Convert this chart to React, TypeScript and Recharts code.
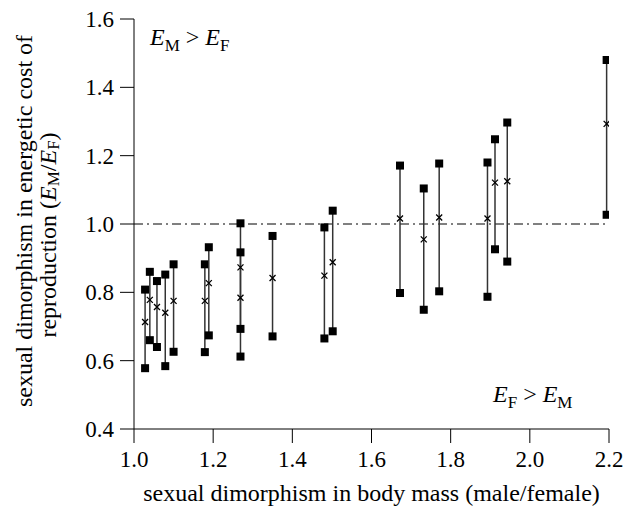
import React from "react";
import { ScatterChart, Scatter, XAxis, YAxis, ReferenceLine } from "recharts";

// body mass ratio (male/female) of each study
const massRatio = [1.028, 1.04, 1.058, 1.079, 1.1, 1.179, 1.189, 1.269, 1.269, 1.35, 1.481, 1.502, 1.672, 1.732, 1.771, 1.893, 1.912, 1.943, 2.194];
// lower / upper / central estimate of E_M/E_F
const costLow = [0.578, 0.66, 0.64, 0.584, 0.626, 0.625, 0.674, 0.612, 0.693, 0.671, 0.665, 0.686, 0.798, 0.749, 0.803, 0.787, 0.926, 0.89, 1.027];
const costHigh = [0.808, 0.86, 0.833, 0.852, 0.882, 0.882, 0.932, 1.002, 0.917, 0.965, 0.99, 1.039, 1.171, 1.104, 1.177, 1.18, 1.248, 1.297, 1.48];
const costMid = [0.713, 0.778, 0.757, 0.74, 0.775, 0.775, 0.827, 0.784, 0.873, 0.842, 0.849, 0.888, 1.016, 0.955, 1.019, 1.016, 1.121, 1.125, 1.293];

const xTicks = [1.0, 1.2, 1.4, 1.6, 1.8, 2.0, 2.2];
const yTicks = [0.4, 0.6, 0.8, 1.0, 1.2, 1.4, 1.6];

const FONT = "Liberation Serif, Times New Roman, serif";
const FS = 24;
const TICK_FS = 23;
const SUB_FS = 17;

const ranges = massRatio.map((x, i) => [
  { x, y: costLow[i] },
  { x, y: costHigh[i] },
]);
const mids = massRatio.map((x, i) => ({ x, y: costMid[i] }));

const Square = (p: any) => <rect x={p.cx - 4} y={p.cy - 4} width={8} height={8} fill="#000" />;
const Cross = (p: any) => (
  <path
    d={`M${p.cx - 3},${p.cy - 3}L${p.cx + 3},${p.cy + 3}M${p.cx + 3},${p.cy - 3}L${p.cx - 3},${p.cy + 3}`}
    stroke="#000"
    strokeWidth={1.3}
  />
);

const XTick = (p: any) => (
  <text x={p.x} y={p.y + 22} textAnchor="middle" style={{ fontFamily: FONT, fontSize: TICK_FS }} fill="#000">
    {Number(p.payload.value).toFixed(1)}
  </text>
);
const YTick = (p: any) => (
  <text x={p.x - 4} y={p.y + 8} textAnchor="end" style={{ fontFamily: FONT, fontSize: TICK_FS }} fill="#000">
    {Number(p.payload.value).toFixed(1)}
  </text>
);

const YLabel = () => (
  <g style={{ fontFamily: FONT, fontSize: FS }} fill="#000">
    <text x={24} y={221} transform="rotate(-90 24 221)" textAnchor="middle" dominantBaseline="central">
      sexual dimorphism in energetic cost of
    </text>
    <text x={48} y={235} transform="rotate(-90 48 235)" textAnchor="middle" dominantBaseline="central">
      reproduction (<tspan fontStyle="italic">E</tspan>
      <tspan fontSize={SUB_FS} dy={5}>M</tspan>
      <tspan dy={-5}>/</tspan>
      <tspan fontStyle="italic">E</tspan>
      <tspan fontSize={SUB_FS} dy={5}>F</tspan>
      <tspan dy={-5}>)</tspan>
    </text>
  </g>
);

const Ineq = ({ a, b, left, top }: { a: string; b: string; left: number; top: number }) => (
  <div style={{ position: "absolute", left, top, fontFamily: FONT, fontSize: FS, lineHeight: 1, whiteSpace: "nowrap" }}>
    <i>E</i>
    <sub style={{ fontSize: SUB_FS }}>{a}</sub> &gt; <i>E</i>
    <sub style={{ fontSize: SUB_FS }}>{b}</sub>
  </div>
);

export default function App() {
  return (
    <div style={{ position: "absolute", left: 0, top: 0, width: 625, height: 510, background: "#fff", fontFamily: FONT }}>
      <ScatterChart width={625} height={510} margin={{ top: 19, right: 16, bottom: 31, left: 64 }}>
        <XAxis
          type="number"
          dataKey="x"
          domain={[1.0, 2.2]}
          ticks={xTicks}
          tickSize={14}
          height={50}
          allowDataOverflow
          stroke="#000"
          tick={<XTick />}
          label={{ value: "sexual dimorphism in body mass (male/female)", position: "insideBottom", offset: -22, fill: "#000", fontFamily: FONT, fontSize: FS }}
        />
        <YAxis
          type="number"
          dataKey="y"
          domain={[0.4, 1.6]}
          ticks={yTicks}
          tickSize={14}
          width={70}
          stroke="#000"
          tick={<YTick />}
          label={{ content: () => <YLabel /> }}
        />
        <ReferenceLine y={1.0} stroke="#000" strokeWidth={1} strokeDasharray="9 4 2 4" />
        {ranges.map((d, i) => (
          <Scatter
            key={i}
            data={d}
            line={{ stroke: "#333", strokeWidth: 1.5 }}
            shape={Square}
            isAnimationActive={false}
          />
        ))}
        <Scatter data={mids} shape={Cross} isAnimationActive={false} />
      </ScatterChart>
      <Ineq a="M" b="F" left={150} top={25} />
      <Ineq a="F" b="M" left={493} top={382} />
    </div>
  );
}
